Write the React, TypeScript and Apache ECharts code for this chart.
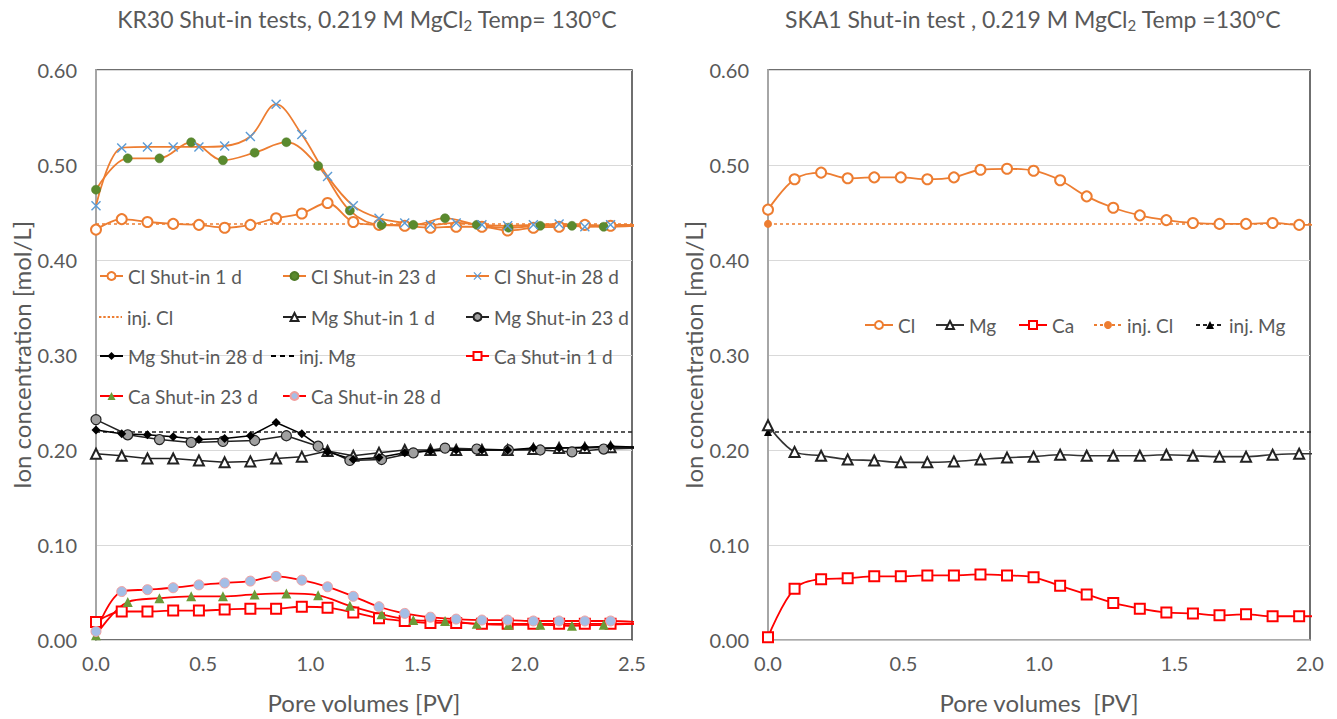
import React, { useEffect, useRef } from "react";
import * as echarts from "echarts";

// ---------- DATA ----------
// Left chart (KR30) – pore volumes
const PV_STEP12 = [0, 0.12, 0.24, 0.36, 0.48, 0.6, 0.72, 0.84, 0.96, 1.08, 1.2, 1.32, 1.44, 1.56, 1.68, 1.8, 1.92, 2.04, 2.16, 2.28, 2.4, 2.52];
const PV_STEP148 = [0, 0.148, 0.296, 0.444, 0.592, 0.74, 0.888, 1.036, 1.184, 1.332, 1.48, 1.628, 1.776, 1.924, 2.072, 2.22, 2.368, 2.516];

const clShut1 = [0.432, 0.443, 0.44, 0.438, 0.437, 0.434, 0.437, 0.444, 0.449, 0.46, 0.44, 0.437, 0.436, 0.434, 0.435, 0.435, 0.431, 0.434, 0.435, 0.437, 0.436, 0.436];
const clShut23 = [0.474, 0.507, 0.507, 0.524, 0.505, 0.513, 0.524, 0.499, 0.452, 0.437, 0.437, 0.444, 0.437, 0.434, 0.436, 0.436, 0.435, 0.436];
const clShut28 = [0.457, 0.518, 0.519, 0.519, 0.519, 0.52, 0.53, 0.564, 0.532, 0.488, 0.457, 0.444, 0.439, 0.437, 0.439, 0.437, 0.436, 0.437, 0.438, 0.435, 0.437, 0.437];

const mgShut1 = [0.196, 0.194, 0.191, 0.191, 0.189, 0.187, 0.188, 0.191, 0.193, 0.199, 0.194, 0.197, 0.2, 0.2, 0.2, 0.2, 0.2, 0.201, 0.202, 0.202, 0.203, 0.203];
const mgShut23 = [0.232, 0.216, 0.211, 0.208, 0.209, 0.21, 0.215, 0.204, 0.189, 0.19, 0.197, 0.202, 0.201, 0.2, 0.2, 0.198, 0.201, 0.202];
const mgShut28 = [0.221, 0.217, 0.216, 0.214, 0.211, 0.212, 0.215, 0.229, 0.217, 0.198, 0.19, 0.192, 0.197, 0.199, 0.2, 0.2, 0.2, 0.202, 0.202, 0.203, 0.204, 0.203];

const caShut1 = [0.019, 0.03, 0.03, 0.031, 0.031, 0.032, 0.033, 0.033, 0.035, 0.034, 0.029, 0.023, 0.02, 0.018, 0.018, 0.017, 0.017, 0.017, 0.017, 0.017, 0.017, 0.017];
const caShut23 = [0.005, 0.04, 0.044, 0.046, 0.046, 0.048, 0.049, 0.047, 0.036, 0.027, 0.021, 0.02, 0.017, 0.016, 0.016, 0.015, 0.016, 0.017];
const caShut28 = [0.009, 0.051, 0.053, 0.055, 0.058, 0.06, 0.062, 0.067, 0.063, 0.056, 0.046, 0.035, 0.028, 0.024, 0.022, 0.021, 0.021, 0.02, 0.02, 0.02, 0.02, 0.019];

const INJ_PV_LEFT = [0, 2.5];
const injClLeft = [0.438, 0.438];
const injMgLeft = [0.219, 0.219];

// Right chart (SKA1)
const PV_RIGHT = [0, 0.098, 0.196, 0.294, 0.392, 0.49, 0.588, 0.686, 0.784, 0.882, 0.98, 1.078, 1.176, 1.274, 1.372, 1.47, 1.568, 1.666, 1.764, 1.862, 1.96, 2.058];
const clRight = [0.453, 0.485, 0.492, 0.486, 0.487, 0.487, 0.485, 0.487, 0.495, 0.496, 0.494, 0.484, 0.467, 0.455, 0.447, 0.442, 0.439, 0.438, 0.438, 0.439, 0.437, 0.437];
const mgRight = [0.226, 0.198, 0.194, 0.19, 0.189, 0.187, 0.187, 0.188, 0.19, 0.192, 0.193, 0.195, 0.194, 0.194, 0.194, 0.195, 0.194, 0.193, 0.193, 0.195, 0.196, 0.196];
const caRight = [0.003, 0.054, 0.064, 0.065, 0.067, 0.067, 0.068, 0.068, 0.069, 0.068, 0.066, 0.057, 0.048, 0.039, 0.033, 0.029, 0.028, 0.026, 0.027, 0.025, 0.025, 0.025];

const INJ_PV_RIGHT = [0, 2.1];
const injClRight = [0.438, 0.438];
const injMgRight = [0.219, 0.219];

const Y_TICKS = [0, 0.1, 0.2, 0.3, 0.4, 0.5, 0.6];

// ---------- STYLE ----------
const FONT = 'Lato, "Noto Sans", "DejaVu Sans", sans-serif';
const TXT = "#595959";
const ORANGE = "#ED7D31";
const RED = "#FF0000";
const BLACK = "#000000";
const BLUE = "#5B9BD5";
const GREEN = "#5A8A2E";
const GREEN2 = "#6B9B37";
const LIGHTBLUE = "#A4BEE6";
const GREY = "#A0A0A0";
const X_SYMBOL = "path://M0,1 L1,0 L5,4 L9,0 L10,1 L6,5 L10,9 L9,10 L5,6 L1,10 L0,9 L4,5 Z";
const DOT_ICON = "path://M0,0h2.5v1h-2.5z M4.5,0h2.5v1h-2.5z M9,0h2.5v1h-2.5z M13.5,0h2.5v1h-2.5z M18,0h2.5v1h-2.5z M22.5,0h1.5v1h-1.5z";
const DASH_ICON = "path://M0,0h5v1h-5z M9,0h5v1h-5z M18,0h5v1h-5z";

const zip = (xs: number[], ys: number[]) => ys.map((y, i) => [xs[i], y]);

function App() {
  const ref = useRef<HTMLDivElement>(null);

  useEffect(() => {
    if (!ref.current) return;
    const chart = echarts.init(ref.current, undefined, { renderer: "svg" });

    const yAxisBase = (gridIndex: number) => ({
      gridIndex,
      type: "value",
      min: Y_TICKS[0],
      max: Y_TICKS[Y_TICKS.length - 1],
      interval: 0.1,
      name: "Ion concentration [mol/L]",
      nameLocation: "middle",
      nameGap: 63,
      nameTextStyle: { fontFamily: FONT, fontSize: 24, color: TXT },
      axisLabel: {
        formatter: (v: number) => v.toFixed(2),
        fontFamily: FONT,
        fontSize: 20,
        color: TXT,
        margin: 19,
      },
      axisLine: { show: true, lineStyle: { color: "#a6a6a6", width: 2 } },
      axisTick: { show: false },
      splitLine: { show: true, lineStyle: { color: "#d9d9d9", width: 1 } },
    });

    const xAxisBase = (gridIndex: number, max: number, name: string, showLine: boolean) => ({
      gridIndex,
      type: "value",
      min: 0,
      max,
      interval: 0.5,
      name,
      nameLocation: "middle",
      nameGap: 50,
      nameTextStyle: { fontFamily: FONT, fontSize: 24, color: TXT },
      axisLabel: {
        formatter: (v: number) => v.toFixed(1),
        fontFamily: FONT,
        fontSize: 20,
        color: TXT,
        margin: 13,
      },
      axisLine: { show: showLine, lineStyle: { color: "#bfbfbf", width: 1.5 } },
      axisTick: { show: false },
      splitLine: { show: false },
    });

    const lineSeries = (o: any) => ({
      type: "line",
      smooth: 0.35,
      clip: true,
      showAllSymbol: true,
      z: 3,
      ...o,
    });

    const series: any[] = [
      // ---- Left: Cl
      lineSeries({
        name: "Cl Shut-in 1 d", xAxisIndex: 0, yAxisIndex: 0, data: zip(PV_STEP12, clShut1),
        symbol: "emptyCircle", symbolSize: 10,
        itemStyle: { color: ORANGE, borderWidth: 1.3 }, lineStyle: { color: ORANGE, width: 1.8 },
      }),
      lineSeries({
        name: "Cl Shut-in 23 d", xAxisIndex: 0, yAxisIndex: 0, data: zip(PV_STEP148, clShut23),
        symbol: "circle", symbolSize: 9,
        itemStyle: { color: GREEN, borderColor: "#4e7a26", borderWidth: 0.5 }, lineStyle: { color: ORANGE, width: 1.8 },
      }),
      lineSeries({
        name: "Cl Shut-in 28 d", xAxisIndex: 0, yAxisIndex: 0, data: zip(PV_STEP12, clShut28),
        symbol: X_SYMBOL, symbolSize: 10,
        itemStyle: { color: BLUE }, lineStyle: { color: ORANGE, width: 1.8 },
      }),
      lineSeries({
        name: "inj. Cl", xAxisIndex: 0, yAxisIndex: 0, data: zip(INJ_PV_LEFT, injClLeft),
        symbol: "circle", showSymbol: false, symbolSize: 8, smooth: false, z: 2,
        itemStyle: { color: ORANGE }, lineStyle: { color: ORANGE, width: 1.5, type: [3, 3] },
      }),
      // ---- Left: Mg
      lineSeries({
        name: "Mg Shut-in 1 d", xAxisIndex: 0, yAxisIndex: 0, data: zip(PV_STEP12, mgShut1),
        symbol: "emptyTriangle", symbolSize: 10, smooth: false,
        itemStyle: { color: "#222", borderWidth: 1.2 }, lineStyle: { color: "#222", width: 1.5 },
      }),
      lineSeries({
        name: "Mg Shut-in 23 d", xAxisIndex: 0, yAxisIndex: 0, data: zip(PV_STEP148, mgShut23),
        symbol: "circle", symbolSize: 10, smooth: false,
        itemStyle: { color: GREY, borderColor: "#222", borderWidth: 1.2 }, lineStyle: { color: "#222", width: 1.5 },
      }),
      lineSeries({
        name: "Mg Shut-in 28 d", xAxisIndex: 0, yAxisIndex: 0, data: zip(PV_STEP12, mgShut28),
        symbol: "diamond", symbolSize: 9, smooth: false,
        itemStyle: { color: BLACK }, lineStyle: { color: BLACK, width: 1.5 },
      }),
      lineSeries({
        name: "inj. Mg", xAxisIndex: 0, yAxisIndex: 0, data: zip(INJ_PV_LEFT, injMgLeft),
        symbol: "triangle", showSymbol: false, symbolSize: 8, smooth: false, z: 2,
        itemStyle: { color: BLACK }, lineStyle: { color: "#222", width: 1.5, type: [4, 3] },
      }),
      // ---- Left: Ca
      lineSeries({
        name: "Ca Shut-in 1 d", xAxisIndex: 0, yAxisIndex: 0, data: zip(PV_STEP12, caShut1),
        symbol: "emptyRect", symbolSize: 10,
        itemStyle: { color: RED, borderWidth: 1.3 }, lineStyle: { color: RED, width: 1.8 },
      }),
      lineSeries({
        name: "Ca Shut-in 23 d", xAxisIndex: 0, yAxisIndex: 0, data: zip(PV_STEP148, caShut23),
        symbol: "triangle", symbolSize: 10,
        itemStyle: { color: GREEN2 }, lineStyle: { color: RED, width: 1.8 },
      }),
      lineSeries({
        name: "Ca Shut-in 28 d", xAxisIndex: 0, yAxisIndex: 0, data: zip(PV_STEP12, caShut28),
        symbol: "circle", symbolSize: 10,
        itemStyle: { color: LIGHTBLUE, borderColor: "#f2a0a0", borderWidth: 1 }, lineStyle: { color: RED, width: 1.8 },
      }),
      // ---- Right
      lineSeries({
        name: "Cl", xAxisIndex: 1, yAxisIndex: 1, data: zip(PV_RIGHT, clRight),
        symbol: "emptyCircle", symbolSize: 10,
        itemStyle: { color: ORANGE, borderWidth: 1.3 }, lineStyle: { color: ORANGE, width: 1.8 },
      }),
      lineSeries({
        name: "Mg", xAxisIndex: 1, yAxisIndex: 1, data: zip(PV_RIGHT, mgRight),
        symbol: "emptyTriangle", symbolSize: 10,
        itemStyle: { color: "#222", borderWidth: 1.2 }, lineStyle: { color: "#333", width: 1.6 },
      }),
      lineSeries({
        name: "Ca", xAxisIndex: 1, yAxisIndex: 1, data: zip(PV_RIGHT, caRight),
        symbol: "emptyRect", symbolSize: 10,
        itemStyle: { color: RED, borderWidth: 1.3 }, lineStyle: { color: RED, width: 1.8 },
      }),
      lineSeries({
        name: "inj. Cl", xAxisIndex: 1, yAxisIndex: 1,
        data: zip(INJ_PV_RIGHT, injClRight).map((p, i) => (i === 0 ? { value: p } : { value: p, symbol: "none" })),
        symbol: "circle", symbolSize: 8, smooth: false, z: 2,
        itemStyle: { color: ORANGE }, lineStyle: { color: ORANGE, width: 1.5, type: [3, 3] },
      }),
      lineSeries({
        name: "inj. Mg", xAxisIndex: 1, yAxisIndex: 1,
        data: zip(INJ_PV_RIGHT, injMgRight).map((p, i) => (i === 0 ? { value: p } : { value: p, symbol: "none" })),
        symbol: "triangle", symbolSize: 8, smooth: false, z: 2,
        itemStyle: { color: BLACK }, lineStyle: { color: "#222", width: 1.5, type: [4, 3] },
      }),
    ];

    const legendText = { fontFamily: FONT, fontSize: 19, color: TXT };
    const legendAt = (name: string, left: number, cy: number, extra: any = {}) => {
      const itemHeight = extra.itemHeight ?? 10;
      return {
        show: true,
        data: [extra.icon ? { name, icon: extra.icon } : { name }],
        left,
        top: cy - 11.5,
        orient: "horizontal",
        padding: 0,
        itemGap: 0,
        itemWidth: extra.itemWidth ?? 23,
        itemHeight,
        symbolKeepAspect: false,
        selectedMode: false,
        textStyle: legendText,
      };
    };

    const legends = [
      legendAt("Cl Shut-in 1 d", 99, 278),
      legendAt("Cl Shut-in 23 d", 282, 278),
      legendAt("Cl Shut-in 28 d", 465, 278),
      legendAt("inj. Cl", 99, 319, { icon: DOT_ICON, itemHeight: 2 }),
      legendAt("Mg Shut-in 1 d", 282, 319),
      legendAt("Mg Shut-in 23 d", 465, 319),
      legendAt("Mg Shut-in 28 d", 99, 358),
      legendAt("inj. Mg", 271, 358, { icon: DASH_ICON, itemHeight: 2 }),
      legendAt("Ca Shut-in 1 d", 465, 358),
      legendAt("Ca Shut-in 23 d", 99, 398),
      legendAt("Ca Shut-in 28 d", 282, 398),
      // right chart
      legendAt("Cl", 864, 327, { itemWidth: 28 }),
      legendAt("Mg", 935, 327, { itemWidth: 28 }),
      legendAt("Ca", 1018, 327, { itemWidth: 28 }),
      legendAt("inj. Cl", 1093, 327, { itemWidth: 28 }),
      legendAt("inj. Mg", 1195, 327, { itemWidth: 28 }),
    ];

    const titleStyle = {
      fontFamily: FONT,
      fontSize: 23,
      fontWeight: "normal",
      color: TXT,
      rich: {
        sub: { fontFamily: FONT, fontSize: 15, color: TXT, padding: [12, 0, 0, 0] },
      },
    };

    const option: any = {
      animation: false,
      backgroundColor: "#ffffff",
      title: [
        { text: "KR30 Shut-in tests, 0.219 M MgCl{sub|2} Temp= 130°C", left: 362, top: 0, textAlign: "center", textStyle: titleStyle },
        { text: "SKA1 Shut-in test , 0.219 M MgCl{sub|2} Temp =130°C", left: 1028, top: 0, textAlign: "center", textStyle: titleStyle },
      ],
      grid: [
        { left: 96, top: 70, width: 536, height: 571, show: true, borderColor: "#404040", borderWidth: 1.5, backgroundColor: "transparent" },
        { left: 768, top: 70, width: 542, height: 571, show: true, borderColor: "#404040", borderWidth: 1.5, backgroundColor: "transparent" },
      ],
      xAxis: [
        xAxisBase(0, 2.5, "Pore volumes [PV]", false),
        xAxisBase(1, 2.0, "Pore volumes  [PV]", true),
      ],
      yAxis: [yAxisBase(0), yAxisBase(1)],
      legend: legends,
      series,
    };

    chart.setOption(option);
    return () => chart.dispose();
  }, []);

  return (
    <div
      ref={ref}
      style={{ position: "fixed", left: 0, top: 0, width: 1337, height: 719, background: "#fff" }}
    />
  );
}

export default App;
